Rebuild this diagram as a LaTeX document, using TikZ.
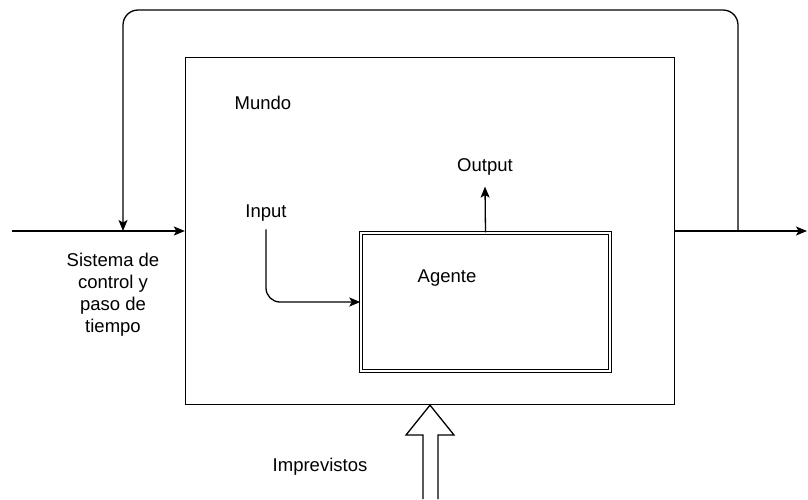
\documentclass[tikz,border=0pt]{standalone}
\usepackage{fontspec}
\setmainfont{Liberation Sans}
\usetikzlibrary{arrows.meta, positioning}

\begin{document}
\begin{tikzpicture}[x=1pt, y=-1pt,
            % Boxes
            world/.style={draw, line width=1.3pt, inner sep=0pt,
                    minimum width=489pt, minimum height=347pt},
            agentbox/.style={draw, double, line width=1pt, double distance=1.6pt,
                    inner sep=0pt, minimum width=249.4pt, minimum height=138.4pt},
            % Labels
            lbl/.style={font=\fontsize{18.5}{22}\selectfont, inner sep=0pt, align=center},
            % Arrows
            arr/.style={-{Stealth[length=11pt, width=9pt, inset=2.5pt]}, line width=1.3pt},
            hollow/.style={line width=1.3pt, line join=miter}
        ]
        \useasboundingbox (0,0) rectangle (808,499);

        % Mundo
        \node[world] (mundo) at (430,231) {};
        \node[lbl] (lblmundo) at (263,103) {Mundo};

        % Agente
        \node[agentbox] (agente) at (485.5,302) {};
        \node[lbl] (lblagente) at (447,278) {Agente};

        % Input / Output
        \node[lbl] (input) at (266,213) {Input};
        \node[lbl] (output) at (485,167) {Output};

        % Side labels
        \node[lbl] (ctl) at (113,295) {Sistema de\\control y\\paso de\\tiempo};
        \node[lbl] (imp) at (320,467) {Imprevistos};

        % Loose ends
        \coordinate (src) at (12,231);
        \coordinate (sink) at (807,231);
        \coordinate (split) at (738,231);
        \coordinate (merge) at (123,231);
        \coordinate (top) at (430,10);

        % Arrows
        \draw[arr] (src) -- (mundo.west);
        \draw[arr] (mundo.east) -- (sink);
        \draw[arr, rounded corners=15pt] (split) |- (top) -| (merge);
        \draw[arr, rounded corners=14pt] ([yshift=-8pt]input.south) |- (agente.west);
        \draw[arr] (agente.north) -- ([yshift=-11pt]output.south);

        % Hollow arrow
        \draw[hollow] (423,499) -- (423,435) -- (406,435) -- (mundo.south)
            -- (454,435) -- (438,435) -- (438,499);

    \end{tikzpicture}
\end{document}
